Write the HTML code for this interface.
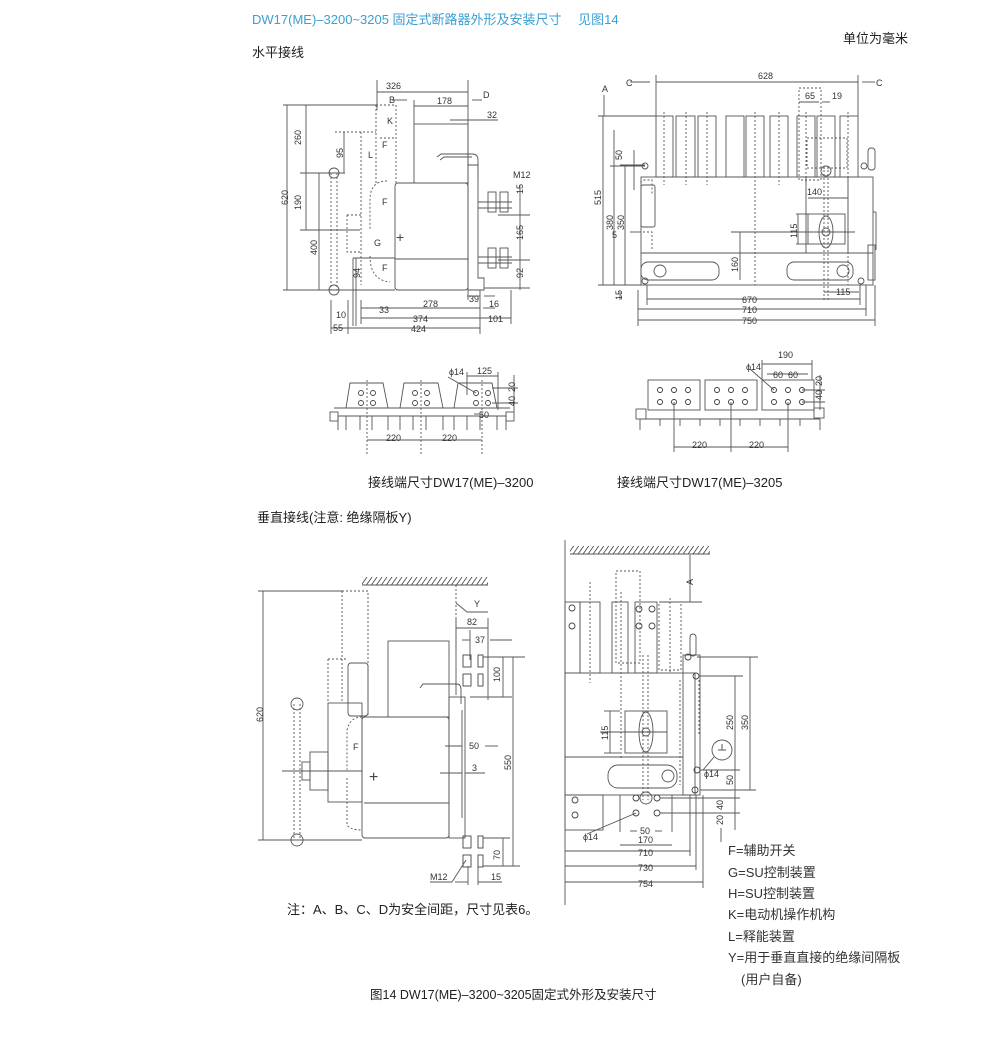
<!DOCTYPE html>
<html><head><meta charset="utf-8"><style>
html,body{margin:0;padding:0;background:#fff;}
svg{display:block;}
text{font-family:"Liberation Sans","Noto Sans CJK SC",sans-serif;fill:#333;}
.d{font-size:9px;fill:#444;}
.l{font-size:13px;fill:#222;}
</style></head><body>
<svg width="1007" height="1055" viewBox="0 0 1007 1055" xmlns="http://www.w3.org/2000/svg">
<defs>
<pattern id="h" width="5" height="8" patternUnits="userSpaceOnUse" patternTransform="skewX(-35)"><line x1="1" y1="0" x2="1" y2="8" stroke="#444" stroke-width="1"/></pattern>
</defs>
<g fill="none" stroke="#555" stroke-width="0.9">
<!-- ===== TOP LEFT ===== -->
<rect x="414" y="124" width="54" height="59"/>
<rect x="395" y="183" width="73" height="107" rx="3"/>
<line x1="395" y1="259" x2="468" y2="259"/>
<path d="M468 165 L478 165 L478 278 L484 278 L484 290 L468 290"/>
<path d="M437 157 L441 154 L472 154 Q478 154 478 160 L478 178"/>
<path d="M440 160 L444 157 L472 157"/>
<line x1="478" y1="202" x2="512" y2="202"/><line x1="478" y1="208" x2="512" y2="208"/>
<line x1="478" y1="257" x2="512" y2="257"/><line x1="478" y1="263" x2="512" y2="263"/>
<g>
<rect x="488" y="192" width="8" height="20"/><rect x="500" y="192" width="8" height="20"/>
<rect x="488" y="248" width="8" height="20"/><rect x="500" y="248" width="8" height="20"/>
</g>
<circle cx="334" cy="173" r="5"/><circle cx="334" cy="290" r="5"/>
<g stroke-dasharray="2,2">
<path d="M376 105 L396 105 L396 183"/>
<path d="M376 105 L376 183"/>
<path d="M335 132 L376 132"/>
<path d="M361 132 L361 285"/>
<path d="M380 138 L395 138"/>
<path d="M387 181 Q370 181 370 200 L370 230"/>
<path d="M370 256 Q370 280 390 282"/>
<line x1="331" y1="173" x2="331" y2="290"/><line x1="337" y1="173" x2="337" y2="290"/>
<path d="M347 215 L361 215 M347 215 L347 252 L361 252"/>
</g>
<line x1="353" y1="258" x2="353" y2="326"/><line x1="356" y1="258" x2="356" y2="326"/>
<path d="M353 258 L395 258"/>
<line x1="283" y1="105" x2="376" y2="105"/><line x1="283" y1="290" x2="395" y2="290"/>
<line x1="287" y1="105" x2="287" y2="290"/>
<line x1="306" y1="105" x2="306" y2="230"/><line x1="300" y1="173" x2="345" y2="173"/><line x1="300" y1="230" x2="360" y2="230"/>
<line x1="319" y1="173" x2="319" y2="290"/>
<line x1="344" y1="132" x2="344" y2="173"/>
<line x1="377" y1="80" x2="377" y2="110"/><line x1="468" y1="80" x2="468" y2="300"/>
<line x1="377" y1="92" x2="468" y2="92"/>
<line x1="414" y1="100" x2="414" y2="124"/>
<line x1="414" y1="106" x2="468" y2="106"/><line x1="392" y1="100" x2="407" y2="100"/><line x1="472" y1="100" x2="482" y2="100"/>
<line x1="450" y1="120" x2="498" y2="120"/>
<line x1="498" y1="215" x2="530" y2="215"/><line x1="498" y1="260" x2="530" y2="260"/><line x1="520" y1="186" x2="520" y2="290"/>
<line x1="484" y1="288" x2="530" y2="288"/>
<line x1="467" y1="296" x2="480" y2="296"/><line x1="484" y1="296" x2="495" y2="296"/>
<line x1="361" y1="308" x2="480" y2="308"/><line x1="483" y1="308" x2="495" y2="308"/>
<line x1="361" y1="318" x2="480" y2="318"/><line x1="480" y1="318" x2="511" y2="318"/>
<line x1="331" y1="328" x2="348" y2="328"/><line x1="348" y1="328" x2="480" y2="328"/>
<line x1="480" y1="290" x2="480" y2="334"/><line x1="511" y1="290" x2="511" y2="324"/><line x1="348" y1="300" x2="348" y2="334"/><line x1="331" y1="300" x2="331" y2="334"/><line x1="361" y1="300" x2="361" y2="324"/>

<!-- ===== TOP RIGHT ===== -->
<g>
<rect x="656" y="116" width="17" height="61"/><rect x="676" y="116" width="19" height="61"/><rect x="698" y="116" width="18" height="61"/>
<rect x="726" y="116" width="18" height="61"/><rect x="746" y="116" width="18" height="61"/><rect x="770" y="116" width="18" height="61"/>
<rect x="797" y="116" width="18" height="61"/><rect x="817" y="116" width="18" height="61"/><rect x="840" y="116" width="18" height="61"/>
</g>
<rect x="641" y="177" width="232" height="108"/>
<line x1="641" y1="253" x2="873" y2="253"/>
<rect x="806" y="177" width="42" height="76"/>
<rect x="808" y="214" width="37" height="30"/>
<ellipse cx="826" cy="232" rx="7" ry="16"/><circle cx="826" cy="232" r="4"/>
<rect x="641" y="185" width="14" height="42" rx="2"/>
<rect x="641" y="262" width="78" height="18" rx="7"/><circle cx="660" cy="271" r="6"/>
<rect x="787" y="262" width="66" height="18" rx="7"/><circle cx="843" cy="271" r="6"/>
<circle cx="645" cy="166" r="3"/><circle cx="864" cy="166" r="3"/><circle cx="645" cy="281" r="3"/><circle cx="861" cy="281" r="3"/>
<rect x="868" y="148" width="7" height="22" rx="3"/>
<line x1="873" y1="212" x2="876" y2="212"/><line x1="876" y1="212" x2="876" y2="250"/>
<rect x="868" y="245" width="7" height="35"/>
<circle cx="826" cy="171" r="5"/>
<g stroke-dasharray="2,2">
<line x1="664" y1="112" x2="664" y2="185"/><line x1="686" y1="112" x2="686" y2="185"/><line x1="707" y1="112" x2="707" y2="185"/><line x1="755" y1="112" x2="755" y2="285"/><line x1="779" y1="112" x2="779" y2="185"/><line x1="806" y1="112" x2="806" y2="185"/><line x1="848" y1="112" x2="848" y2="285"/>
<rect x="799" y="88" width="22" height="92"/><rect x="807" y="138" width="40" height="30"/>
<line x1="824" y1="170" x2="824" y2="300"/><line x1="828" y1="170" x2="828" y2="300"/>
<path d="M641 183 Q641 180 645 180 L652 180 L652 195"/><path d="M643 232 L652 232 L652 250"/>
</g>
<line x1="656" y1="75" x2="656" y2="116"/><line x1="858" y1="75" x2="858" y2="116"/>
<line x1="656" y1="82" x2="858" y2="82"/><line x1="630" y1="82" x2="650" y2="82"/><line x1="862" y1="82" x2="875" y2="82"/>
<line x1="604" y1="95" x2="604" y2="116"/>
<line x1="598" y1="116" x2="656" y2="116"/><line x1="598" y1="285" x2="641" y2="285"/>
<line x1="603" y1="116" x2="603" y2="285"/><line x1="614" y1="130" x2="614" y2="285"/><line x1="625" y1="165" x2="625" y2="285"/>
<line x1="610" y1="166" x2="645" y2="166"/><line x1="620" y1="165" x2="645" y2="165"/>
<line x1="634" y1="150" x2="634" y2="190"/><line x1="630" y1="232" x2="641" y2="232"/>
<line x1="620" y1="292" x2="620" y2="300"/>
<line x1="731" y1="232" x2="855" y2="232"/><line x1="740" y1="232" x2="740" y2="280"/><line x1="796" y1="214" x2="808" y2="214"/><line x1="796" y1="244" x2="808" y2="244"/><line x1="798" y1="214" x2="798" y2="244"/>
<line x1="808" y1="198" x2="848" y2="198"/>
<line x1="799" y1="102" x2="819" y2="102"/><line x1="822" y1="102" x2="830" y2="102"/>
<line x1="824" y1="292" x2="859" y2="292"/>
<line x1="647" y1="299" x2="860" y2="299"/><line x1="638" y1="309" x2="866" y2="309"/><line x1="638" y1="320" x2="875" y2="320"/>
<line x1="647" y1="285" x2="647" y2="305"/><line x1="860" y1="285" x2="860" y2="305"/><line x1="638" y1="290" x2="638" y2="326"/><line x1="866" y1="285" x2="866" y2="316"/><line x1="875" y1="285" x2="875" y2="326"/>

<!-- ===== TERMINALS LEFT ===== -->
<path d="M350 383 L383 383 L388 408 L346 408 Z"/>
<path d="M404 383 L438 383 L443 408 L400 408 Z"/>
<path d="M458 383 L492 383 L497 408 L454 408 Z"/>
<rect x="330" y="412" width="8" height="9"/><rect x="506" y="412" width="8" height="9"/>
<line x1="334" y1="408" x2="510" y2="408"/>
<path d="M338 416 L506 416"/>
<line x1="338" y1="416" x2="338" y2="430"/><line x1="506" y1="416" x2="506" y2="430"/>
<line x1="346" y1="416" x2="346" y2="430"/><line x1="360" y1="416" x2="360" y2="430"/><line x1="372" y1="416" x2="372" y2="430"/><line x1="388" y1="416" x2="388" y2="430"/>
<line x1="400" y1="416" x2="400" y2="430"/><line x1="413" y1="416" x2="413" y2="430"/><line x1="426" y1="416" x2="426" y2="430"/><line x1="443" y1="416" x2="443" y2="430"/>
<line x1="454" y1="416" x2="454" y2="430"/><line x1="467" y1="416" x2="467" y2="430"/><line x1="480" y1="416" x2="480" y2="430"/><line x1="497" y1="416" x2="497" y2="430"/>
<g stroke="#444">
<circle cx="361" cy="393" r="2.5"/><circle cx="373" cy="393" r="2.5"/><circle cx="361" cy="403" r="2.5"/><circle cx="373" cy="403" r="2.5"/>
<circle cx="415" cy="393" r="2.5"/><circle cx="427" cy="393" r="2.5"/><circle cx="415" cy="403" r="2.5"/><circle cx="427" cy="403" r="2.5"/>
<circle cx="476" cy="393" r="2.5"/><circle cx="488" cy="393" r="2.5"/><circle cx="476" cy="403" r="2.5"/><circle cx="488" cy="403" r="2.5"/>
</g>
<line x1="367" y1="380" x2="367" y2="455" stroke-dasharray="2,2"/><line x1="421" y1="380" x2="421" y2="455" stroke-dasharray="2,2"/><line x1="482" y1="380" x2="482" y2="455" stroke-dasharray="2,2"/>
<line x1="367" y1="440" x2="482" y2="440"/>
<line x1="467" y1="376" x2="498" y2="376"/><line x1="467" y1="372" x2="467" y2="395"/><line x1="498" y1="372" x2="498" y2="410"/>
<line x1="448" y1="377" x2="476" y2="393"/>
<line x1="492" y1="388" x2="518" y2="388"/><line x1="492" y1="403" x2="518" y2="403"/><line x1="514" y1="375" x2="514" y2="412"/>
<line x1="474" y1="414" x2="480" y2="414"/>
<!-- ===== TERMINALS RIGHT ===== -->
<rect x="648" y="380" width="52" height="30"/><rect x="705" y="380" width="52" height="30"/><rect x="762" y="380" width="52" height="30"/>
<rect x="636" y="409" width="10" height="10"/><rect x="814" y="408" width="10" height="10"/>
<line x1="640" y1="419" x2="820" y2="419"/>
<line x1="640" y1="419" x2="640" y2="430"/><line x1="820" y1="419" x2="820" y2="430"/>
<line x1="660" y1="419" x2="660" y2="426"/><line x1="680" y1="419" x2="680" y2="426"/><line x1="700" y1="419" x2="700" y2="426"/><line x1="720" y1="419" x2="720" y2="426"/><line x1="740" y1="419" x2="740" y2="426"/><line x1="760" y1="419" x2="760" y2="426"/><line x1="780" y1="419" x2="780" y2="426"/><line x1="800" y1="419" x2="800" y2="426"/>
<g stroke="#333">
<circle cx="660" cy="390" r="2.5"/><circle cx="674" cy="390" r="2.5"/><circle cx="688" cy="390" r="2.5"/><circle cx="660" cy="402" r="2.5"/><circle cx="674" cy="402" r="2.5"/><circle cx="688" cy="402" r="2.5"/>
<circle cx="717" cy="390" r="2.5"/><circle cx="731" cy="390" r="2.5"/><circle cx="745" cy="390" r="2.5"/><circle cx="717" cy="402" r="2.5"/><circle cx="731" cy="402" r="2.5"/><circle cx="745" cy="402" r="2.5"/>
<circle cx="774" cy="390" r="2.5"/><circle cx="788" cy="390" r="2.5"/><circle cx="802" cy="390" r="2.5"/><circle cx="774" cy="402" r="2.5"/><circle cx="788" cy="402" r="2.5"/><circle cx="802" cy="402" r="2.5"/>
</g>
<line x1="674" y1="402" x2="674" y2="452"/><line x1="731" y1="402" x2="731" y2="452"/><line x1="788" y1="402" x2="788" y2="452"/>
<line x1="674" y1="447" x2="788" y2="447"/>
<line x1="762" y1="364" x2="812" y2="364"/><line x1="762" y1="360" x2="762" y2="380"/><line x1="812" y1="360" x2="812" y2="380"/>
<line x1="767" y1="374" x2="808" y2="374"/><line x1="750" y1="369" x2="774" y2="390"/>
<line x1="802" y1="390" x2="825" y2="390"/><line x1="802" y1="402" x2="825" y2="402"/><line x1="820" y1="375" x2="820" y2="410"/>

<!-- ===== BOTTOM LEFT ===== -->
<rect x="362" y="577" width="126" height="8" fill="url(#h)" stroke="none"/>
<line x1="362" y1="585" x2="488" y2="585"/>
<rect x="388" y="641" width="61" height="76"/>
<rect x="362" y="717" width="87" height="121" rx="3"/>
<line x1="364" y1="803" x2="449" y2="803"/>
<rect x="328" y="703" width="34" height="99"/>
<rect x="310" y="752" width="18" height="38"/><rect x="302" y="762" width="8" height="18"/>
<rect x="348" y="663" width="20" height="53" rx="3"/>
<rect x="449" y="697" width="16" height="141"/>
<line x1="462" y1="710" x2="462" y2="818"/>
<path d="M420 688 L423 684 L457 684 Q461 684 461 690 L461 704"/>
<circle cx="297" cy="704" r="6"/><circle cx="297" cy="840" r="6"/>
<g stroke-dasharray="2,2">
<line x1="294" y1="704" x2="294" y2="840"/><line x1="300" y1="704" x2="300" y2="840"/>
<path d="M342 591 L368 591 L368 717"/><path d="M342 591 L342 703"/>
<path d="M328 659 L348 659"/><path d="M328 659 L328 703"/>
<path d="M362 717 Q350 717 347 730 L347 770"/><path d="M347 778 L347 825 Q350 830 362 830"/>
<line x1="456" y1="585" x2="456" y2="650"/>
</g>
<line x1="258" y1="591" x2="342" y2="591"/><line x1="258" y1="840" x2="362" y2="840"/>
<line x1="263" y1="591" x2="263" y2="840"/>
<line x1="282" y1="771" x2="362" y2="771"/>
<line x1="456" y1="618" x2="456" y2="695"/><line x1="488" y1="618" x2="488" y2="700"/>
<line x1="456" y1="628" x2="488" y2="628"/><line x1="462" y1="640" x2="470" y2="640"/><line x1="490" y1="640" x2="512" y2="640"/><line x1="470" y1="630" x2="470" y2="660"/>
<g stroke="#444">
<rect x="463" y="655" width="8" height="12"/><rect x="478" y="655" width="5" height="12"/>
<rect x="463" y="674" width="8" height="12"/><rect x="478" y="674" width="5" height="12"/>
<rect x="463" y="836" width="8" height="12"/><rect x="478" y="836" width="5" height="12"/>
<rect x="463" y="855" width="8" height="12"/><rect x="478" y="855" width="5" height="12"/>
</g>
<line x1="483" y1="657" x2="525" y2="657"/><line x1="470" y1="697" x2="512" y2="697"/><line x1="503" y1="657" x2="503" y2="697"/>
<line x1="513" y1="657" x2="513" y2="866"/><line x1="483" y1="838" x2="510" y2="838"/><line x1="483" y1="866" x2="520" y2="866"/><line x1="503" y1="838" x2="503" y2="866"/>
<line x1="445" y1="746" x2="462" y2="746"/><line x1="485" y1="746" x2="498" y2="746"/>
<line x1="440" y1="773" x2="462" y2="773"/><line x1="465" y1="773" x2="485" y2="773"/>
<line x1="468" y1="866" x2="468" y2="885"/><line x1="478" y1="866" x2="478" y2="885"/><line x1="455" y1="882" x2="468" y2="882"/><line x1="478" y1="882" x2="502" y2="882"/>
<line x1="430" y1="882" x2="452" y2="882"/><line x1="452" y1="882" x2="466" y2="860"/>
<path d="M456 603 L467 612 L488 612"/>

<!-- ===== BOTTOM RIGHT ===== -->
<line x1="565" y1="540" x2="565" y2="905"/>
<rect x="570" y="546" width="140" height="8" fill="url(#h)" stroke="none"/>
<line x1="570" y1="554" x2="710" y2="554"/>
<rect x="565" y="602" width="15" height="71"/><rect x="580" y="602" width="20" height="71"/><rect x="612" y="602" width="16" height="71"/><rect x="635" y="602" width="22" height="71"/>
<rect x="565" y="673" width="130" height="122"/>
<line x1="565" y1="757" x2="683" y2="757"/>
<rect x="625" y="711" width="42" height="42"/>
<ellipse cx="646" cy="732" rx="7" ry="20"/><circle cx="646" cy="732" r="4"/>
<rect x="608" y="765" width="69" height="23" rx="10"/><circle cx="668" cy="776" r="6"/>
<rect x="683" y="655" width="17" height="140"/>
<rect x="690" y="634" width="6" height="22" rx="3"/>
<rect x="565" y="795" width="38" height="35"/>
<line x1="620" y1="795" x2="620" y2="832"/><line x1="672" y1="795" x2="672" y2="832"/>
<circle cx="646" cy="798" r="6"/>
<circle cx="722" cy="750" r="10"/>
<g stroke="#444">
<circle cx="572" cy="608" r="3"/><circle cx="572" cy="626" r="3"/><circle cx="639" cy="609" r="3"/><circle cx="652" cy="609" r="3"/><circle cx="639" cy="626" r="3"/><circle cx="652" cy="626" r="3"/>
<circle cx="575" cy="800" r="3"/><circle cx="575" cy="815" r="3"/><circle cx="636" cy="798" r="3"/><circle cx="657" cy="798" r="3"/><circle cx="636" cy="813" r="3"/><circle cx="657" cy="813" r="3"/>
<circle cx="688" cy="657" r="3"/><circle cx="696" cy="676" r="3"/><circle cx="697" cy="770" r="3"/><circle cx="695" cy="790" r="3"/>
</g>
<g stroke-dasharray="2,2">
<rect x="616" y="571" width="24" height="92"/><rect x="659" y="602" width="22" height="68"/>
<line x1="590" y1="582" x2="590" y2="683"/><line x1="621" y1="592" x2="621" y2="760"/>
<line x1="643" y1="655" x2="643" y2="800"/><line x1="648" y1="655" x2="648" y2="800"/>
<line x1="670" y1="598" x2="670" y2="673"/><line x1="680" y1="680" x2="680" y2="785"/>
<line x1="699" y1="680" x2="699" y2="735"/>
</g>
<line x1="660" y1="602" x2="702" y2="602"/><line x1="690" y1="555" x2="690" y2="602"/>
<line x1="697" y1="657" x2="758" y2="657"/><line x1="700" y1="676" x2="743" y2="676"/>
<line x1="750" y1="657" x2="750" y2="790"/><line x1="735" y1="676" x2="735" y2="790"/>
<line x1="700" y1="790" x2="756" y2="790"/><line x1="700" y1="770" x2="740" y2="770"/>
<line x1="600" y1="732" x2="667" y2="732"/><line x1="604" y1="711" x2="620" y2="711"/><line x1="604" y1="753" x2="620" y2="753"/><line x1="610" y1="711" x2="610" y2="753"/>
<line x1="660" y1="798" x2="740" y2="798"/><line x1="660" y1="813" x2="740" y2="813"/><line x1="735" y1="790" x2="735" y2="830"/>
<line x1="630" y1="831" x2="637" y2="831"/><line x1="655" y1="831" x2="662" y2="831"/>
<line x1="620" y1="845" x2="672" y2="845"/>
<line x1="565" y1="851" x2="690" y2="851"/><line x1="565" y1="866" x2="696" y2="866"/><line x1="565" y1="882" x2="703" y2="882"/>
<line x1="690" y1="795" x2="690" y2="856"/><line x1="696" y1="795" x2="696" y2="870"/><line x1="703" y1="795" x2="703" y2="888"/>
<line x1="587" y1="834" x2="636" y2="813"/>
<line x1="703" y1="770" x2="714" y2="757"/>
<line x1="721" y1="828" x2="721" y2="842"/>
</g>
<line x1="718" y1="750" x2="726" y2="750" stroke="#555"/><line x1="722" y1="744" x2="722" y2="750" stroke="#555"/>

<!-- ===== TEXT ===== -->
<text x="252" y="24" style="font-size:13px;fill:#3a9fd2">DW17(ME)–3200~3205 固定式断路器外形及安装尺寸 　见图14</text>
<text x="843" y="43" class="l">单位为毫米</text>
<text x="252" y="57" class="l">水平接线</text>
<g class="d">
<text x="386" y="89">326</text><text x="389" y="103">B</text><text x="483" y="98">D</text>
<text x="437" y="104">178</text><text x="487" y="118">32</text>
<text x="387" y="124">K</text><text x="382" y="148">F</text><text x="368" y="158">L</text>
<text x="382" y="205">F</text><text x="374" y="246">G</text><text x="382" y="271">F</text>
<text x="513" y="178">M12</text>
<text x="469" y="302">39</text><text x="489" y="307">16</text><text x="423" y="307">278</text><text x="379" y="313">33</text>
<text x="413" y="322">374</text><text x="488" y="322">101</text><text x="336" y="318">10</text>
<text x="411" y="332">424</text><text x="333" y="331">55</text>
<text x="758" y="79">628</text><text x="626" y="86">C</text><text x="876" y="86">C</text><text x="602" y="92">A</text>
<text x="805" y="99">65</text><text x="832" y="99">19</text><text x="807" y="195">140</text><text x="612" y="238">5</text>
<text x="836" y="295">115</text><text x="742" y="303">670</text><text x="742" y="313">710</text><text x="742" y="324">750</text>
<text x="449" y="375">ϕ14</text><text x="477" y="374">125</text><text x="479" y="418">50</text>
<text x="386" y="441">220</text><text x="442" y="441">220</text>
<text x="778" y="358">190</text><text x="746" y="370">ϕ14</text><text x="773" y="378">60</text><text x="788" y="378">60</text>
<text x="692" y="448">220</text><text x="749" y="448">220</text>
<text x="474" y="607">Y</text><text x="467" y="625">82</text><text x="475" y="643">37</text>
<text x="353" y="750">F</text><text x="469" y="749">50</text><text x="472" y="771">3</text>
<text x="430" y="880">M12</text><text x="491" y="880">15</text>
<text x="640" y="834">50</text>
<text x="638" y="843">170</text>
<text x="638" y="856">710</text><text x="638" y="871">730</text><text x="638" y="887">754</text>
<text x="704" y="777">ϕ14</text><text x="583" y="840">ϕ14</text>
</g>
<g class="d">
<text transform="translate(301,145) rotate(-90)">260</text>
<text transform="translate(343,158) rotate(-90)">95</text>
<text transform="translate(301,210) rotate(-90)">190</text>
<text transform="translate(288,205) rotate(-90)">620</text>
<text transform="translate(317,255) rotate(-90)">400</text>
<text transform="translate(360,278) rotate(-90)">94</text>
<text transform="translate(523,194) rotate(-90)">15</text>
<text transform="translate(523,240) rotate(-90)">165</text>
<text transform="translate(523,278) rotate(-90)">92</text>
<text transform="translate(601,205) rotate(-90)">515</text>
<text transform="translate(613,230) rotate(-90)">380</text>
<text transform="translate(624,230) rotate(-90)">350</text>
<text transform="translate(622,160) rotate(-90)">50</text>
<text transform="translate(622,300) rotate(-90)">15</text>
<text transform="translate(738,272) rotate(-90)">160</text>
<text transform="translate(797,238) rotate(-90)">115</text>
<text transform="translate(515,392) rotate(-90)">20</text>
<text transform="translate(515,406) rotate(-90)">40</text>
<text transform="translate(822,386) rotate(-90)">20</text>
<text transform="translate(822,400) rotate(-90)">40</text>
<text transform="translate(263,722) rotate(-90)">620</text>
<text transform="translate(500,682) rotate(-90)">100</text>
<text transform="translate(511,770) rotate(-90)">550</text>
<text transform="translate(500,860) rotate(-90)">70</text>
<text transform="translate(693,585) rotate(-90)">A</text>
<text transform="translate(608,740) rotate(-90)">115</text>
<text transform="translate(733,730) rotate(-90)">250</text>
<text transform="translate(748,730) rotate(-90)">350</text>
<text transform="translate(733,785) rotate(-90)">50</text>
<text transform="translate(723,810) rotate(-90)">40</text>
<text transform="translate(723,825) rotate(-90)">20</text>
</g>
<text x="396" y="242" style="font-size:14px;fill:#444">+</text>
<text x="369" y="782" style="font-size:16px;fill:#444">+</text>
<text x="368" y="487" class="l">接线端尺寸DW17(ME)–3200</text>
<text x="617" y="487" class="l">接线端尺寸DW17(ME)–3205</text>
<text x="257" y="522" class="l">垂直接线(注意:  绝缘隔板Y)</text>
<text x="287" y="914" class="l">注：A、B、C、D为安全间距，尺寸见表6。</text>
<g class="l">
<text x="728" y="855">F=辅助开关</text>
<text x="728" y="877">G=SU控制装置</text>
<text x="728" y="898">H=SU控制装置</text>
<text x="728" y="919">K=电动机操作机构</text>
<text x="728" y="941">L=释能装置</text>
<text x="728" y="962">Y=用于垂直直接的绝缘间隔板</text>
<text x="741" y="984">(用户自备)</text>
</g>
<text x="370" y="999" class="l" style="font-size:12.5px">图14  DW17(ME)–3200~3205固定式外形及安装尺寸</text>
</svg>
</body></html>
